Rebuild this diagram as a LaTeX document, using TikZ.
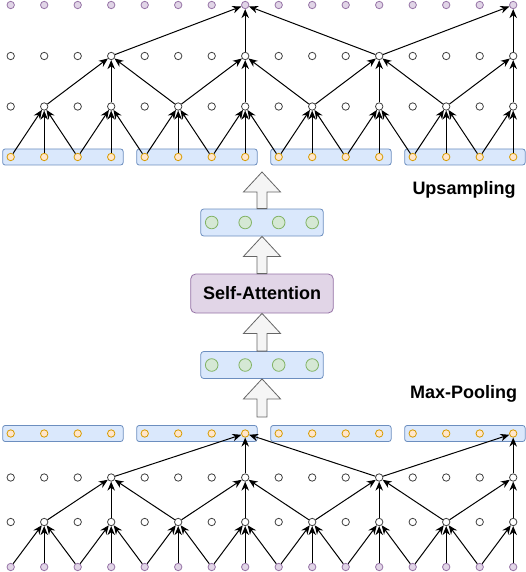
\documentclass[tikz,border=0pt]{standalone}
\usepackage{fontspec}
\setmainfont{Liberation Sans}
\usetikzlibrary{arrows.meta}
\usetikzlibrary{calc}
\definecolor{bluefill}{HTML}{DAE8FC}
\definecolor{bluedraw}{HTML}{6C8EBF}
\definecolor{orgfill}{HTML}{FFE6CC}
\definecolor{orgdraw}{HTML}{D79B00}
\definecolor{purpfill}{HTML}{E1D5E7}
\definecolor{purpdraw}{HTML}{9673A6}
\definecolor{grnfill}{HTML}{D5E8D4}
\definecolor{grndraw}{HTML}{82B366}
\definecolor{arrfill}{HTML}{F5F5F5}
\definecolor{arrdraw}{HTML}{666666}
\tikzset{unit/.style={circle,draw=black!75,fill=white,minimum size=7.4pt,inner sep=0pt,line width=0.8pt}}
\tikzset{inunit/.style={unit,draw=purpdraw,fill=purpfill}}
\tikzset{outunit/.style={unit,draw=orgdraw,fill=orgfill}}
\tikzset{embunit/.style={unit,draw=grndraw,fill=grnfill,minimum size=12.6pt}}
\tikzset{group/.style={draw=bluedraw,fill=bluefill,rounded corners=2.5pt,line width=0.8pt,
    minimum width=120.5pt,minimum height=16pt,inner sep=0pt}}
\tikzset{attn/.style={draw=purpdraw,fill=purpfill,rounded corners=5pt,line width=0.8pt,
    minimum width=142.6pt,minimum height=39pt,font=\bfseries\fontsize{18}{20}\selectfont}}
\tikzset{caption/.style={font=\bfseries\fontsize{18}{20}\selectfont,anchor=base,inner sep=0pt}}
\tikzset{arrow/.style={-{Stealth[length=9pt,width=7.5pt]},line width=1pt}}
\tikzset{hollow/.style={draw=arrdraw,fill=arrfill,line width=0.8pt}}
\newcommand{\hollowup}[2]{
    \draw[hollow] let \p1=(#1), \p2=(#2) in
        (\x1-5pt,\y1) -- (\x1-5pt,\y2-20pt) -- (\x1-18.5pt,\y2-20pt)
        -- (\x1,\y2) -- (\x1+18.5pt,\y2-20pt) -- (\x1+5pt,\y2-20pt)
        -- (\x1+5pt,\y1) -- cycle;
}
\newcommand{\joins}[5]{
    \pgfmathtruncatemacro\lft{#4-#5}
    \pgfmathtruncatemacro\rgt{#4+#5}
    \draw[arrow] (#1#2-\lft) -- (#1#3-#4);
    \draw[arrow] (#1#2-#4) -- (#1#3-#4);
    \ifnum#4<15 \draw[arrow] (#1#2-\rgt) -- (#1#3-#4);\fi
}

\begin{document}
\begin{tikzpicture}[x=1pt,y=-1pt]
        \useasboundingbox (0,0) rectangle (526,572);

        \foreach \k in {0,...,3} {
            \node[group] (ug\k) at ({62.9+134*\k},157) {};
            \node[group] (dg\k) at ({62.9+134*\k},433.5) {};
        }

        \foreach \i in {0,...,15} {
            \node[inunit] (u0-\i) at ({10.7+33.5*\i},5) {};
            \node[unit] (u1-\i) at ({10.7+33.5*\i},56) {};
            \node[unit] (u2-\i) at ({10.7+33.5*\i},106.5) {};
            \node[outunit] (u3-\i) at ({10.7+33.5*\i},157) {};
            \node[outunit] (d0-\i) at ({10.7+33.5*\i},433.5) {};
            \node[unit] (d1-\i) at ({10.7+33.5*\i},477.5) {};
            \node[unit] (d2-\i) at ({10.7+33.5*\i},522) {};
            \node[inunit] (d3-\i) at ({10.7+33.5*\i},567) {};
        }

        \foreach \side in {u,d} {
            \foreach \i in {1,3,...,15} {\joins{\side}{3}{2}{\i}{1}}
            \foreach \i in {3,7,11,15} {\joins{\side}{2}{1}{\i}{2}}
            \foreach \i in {7,15} {\joins{\side}{1}{0}{\i}{4}}
        }

        \node[group,minimum width=122.5pt,minimum height=27pt,rounded corners=3pt] (embup) at (262,222.5) {};
        \node[group,minimum width=122.5pt,minimum height=27pt,rounded corners=3pt] (embdown) at (262,365) {};
        \foreach \i in {6,...,9} {
            \node[embunit] (eu\i) at ({10.7+33.5*\i},222.5) {};
            \node[embunit] (ed\i) at ({10.7+33.5*\i},365) {};
        }
        \node[attn] (att) at (262,293.5) {Self-Attention};

        \coordinate (upend) at (262,172);
        \coordinate (poolstart) at (262,417);
        \hollowup{poolstart}{embdown.south}
        \hollowup{embdown.north}{att.south}
        \hollowup{att.north}{embup.south}
        \hollowup{embup.north}{upend}

        \node[caption] (ups) at (464,194) {Upsampling};
        \node[caption] (mxp) at (463.5,398) {Max-Pooling};
    \end{tikzpicture}
\end{document}
